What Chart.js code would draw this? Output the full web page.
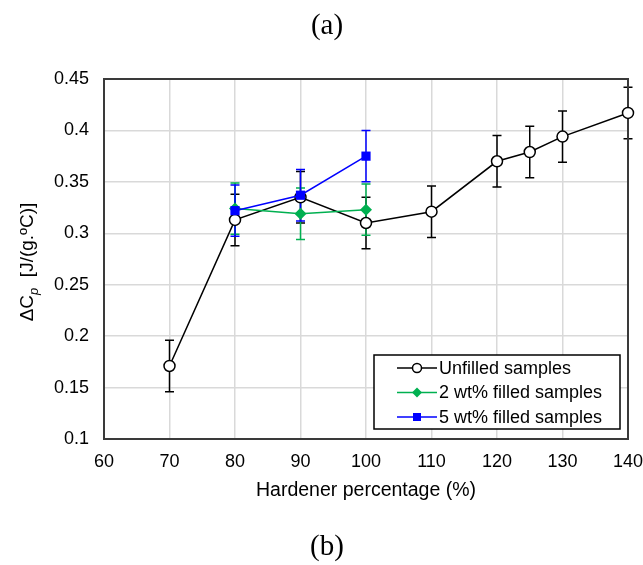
<!DOCTYPE html>
<html>
<head>
<meta charset="utf-8">
<script src="https://cdn.jsdelivr.net/npm/chart.js@4"></script>
<style>
    body { margin: 0; background: #fff; }
    #wrap { width: 643px; height: 565px; }
</style>
</head>
<body>
<div id="wrap"><canvas id="cpChart" width="643" height="565"></canvas></div>
<script>
// hardener percentage on the x axis
var xTicks = [60, 70, 80, 90, 100, 110, 120, 130, 140];
var yTicks = [0.1, 0.15, 0.2, 0.25, 0.3, 0.35, 0.4, 0.45];

var unfilledX = [70, 80, 90, 100, 110, 120, 125, 130, 140];
var unfilledY = [0.171, 0.313, 0.335, 0.310, 0.321, 0.370, 0.379, 0.394, 0.417];
var unfilledErr = [0.025, 0.025, 0.025, 0.025, 0.025, 0.025, 0.025, 0.025, 0.025];

var filled2X = [80, 90, 100];
var filled2Y = [0.324, 0.319, 0.323];
var filled2Err = [0.025, 0.025, 0.025];

var filled5X = [80, 90, 100];
var filled5Y = [0.322, 0.337, 0.375];
var filled5Err = [0.025, 0.025, 0.025];

var labels = ["Unfilled samples", "2 wt% filled samples", "5 wt% filled samples"];

var GREEN = '#00b050';
var BLUE = '#0000ff';

function toPoints(xs, ys) {
    return xs.map(function(x, i) { return { x: x, y: ys[i] }; });
}

// vertical error bars with caps, drawn under the markers
var errorBars = {
    id: 'errorBars',
    beforeDatasetsDraw: function(chart) {
        var ctx = chart.ctx;
        var xs = chart.scales.x, ys = chart.scales.y;
        chart.data.datasets.forEach(function(ds) {
            ctx.save();
            ctx.strokeStyle = ds.borderColor;
            ctx.lineWidth = 1.5;
            ds.data.forEach(function(p, i) {
                var e = ds.errors[i];
                var px = xs.getPixelForValue(p.x);
                var top = ys.getPixelForValue(p.y + e);
                var bot = ys.getPixelForValue(p.y - e);
                ctx.beginPath();
                ctx.moveTo(px, top); ctx.lineTo(px, bot);
                ctx.moveTo(px - 4.5, top); ctx.lineTo(px + 4.5, top);
                ctx.moveTo(px - 4.5, bot); ctx.lineTo(px + 4.5, bot);
                ctx.stroke();
            });
            ctx.restore();
        });
        // plot frame
        var a = chart.chartArea;
        ctx.save();
        ctx.strokeStyle = '#3a3a3a';
        ctx.lineWidth = 2;
        ctx.strokeRect(a.left, a.top, a.right - a.left, a.bottom - a.top);
        ctx.restore();
    }
};

function drawMarker(ctx, style, x, y, color) {
    ctx.save();
    ctx.lineWidth = 1.5;
    if (style === 'circle') {
        ctx.fillStyle = '#fff';
        ctx.strokeStyle = color;
        ctx.beginPath();
        ctx.arc(x, y, 4.5, 0, Math.PI * 2);
        ctx.fill(); ctx.stroke();
    } else if (style === 'rectRot') {
        ctx.fillStyle = color;
        ctx.beginPath();
        ctx.moveTo(x, y - 5); ctx.lineTo(x + 5, y); ctx.lineTo(x, y + 5); ctx.lineTo(x - 5, y);
        ctx.closePath(); ctx.fill();
    } else {
        ctx.fillStyle = color;
        ctx.fillRect(x - 4, y - 4, 8, 8);
    }
    ctx.restore();
}

// texts, y title with subscript, and the boxed legend
var extras = {
    id: 'extras',
    afterDraw: function(chart) {
        var ctx = chart.ctx;
        var a = chart.chartArea;
        ctx.save();
        ctx.fillStyle = '#000';
        ctx.textAlign = 'center';
        ctx.textBaseline = 'middle';
        ctx.font = '29px "Liberation Serif"';
        ctx.fillText('(a)', 327, 26);
        ctx.fillText('(b)', 327, 547);

        ctx.font = '19.5px "Liberation Sans"';
        ctx.fillText('Hardener percentage (%)', (a.left + a.right) / 2, 491);

        // y axis title
        ctx.translate(28, (a.top + a.bottom) / 2 + 3);
        ctx.rotate(-Math.PI / 2);
        var f1 = '19px "Liberation Sans"';
        var f2 = 'italic 13px "Liberation Sans"';
        var t1 = '\u0394C', t2 = 'p', t3 = '  [J/(g.\u00baC)]';
        ctx.font = f1; var w1 = ctx.measureText(t1).width; var w3 = ctx.measureText(t3).width;
        ctx.font = f2; var w2 = ctx.measureText(t2).width;
        var sx = -(w1 + w2 + w3) / 2;
        ctx.textAlign = 'left';
        ctx.font = f1; ctx.fillText(t1, sx, 0);
        ctx.font = f2; ctx.fillText(t2, sx + w1, 6);
        ctx.font = f1; ctx.fillText(t3, sx + w1 + w2, 0);
        ctx.restore();

        // legend
        ctx.save();
        var lx = 374, ly = 355, lw = 246, lh = 74;
        ctx.fillStyle = '#fff';
        ctx.fillRect(lx, ly, lw, lh);
        ctx.strokeStyle = '#000';
        ctx.lineWidth = 1.5;
        ctx.strokeRect(lx, ly, lw, lh);
        ctx.font = '18px "Liberation Sans"';
        ctx.textBaseline = 'middle';
        chart.data.datasets.forEach(function(ds, i) {
            var ry = 368 + i * 24.5;
            ctx.strokeStyle = ds.borderColor;
            ctx.lineWidth = 1.5;
            ctx.beginPath(); ctx.moveTo(397, ry); ctx.lineTo(437, ry); ctx.stroke();
            drawMarker(ctx, ds.pointStyle, 417, ry, ds.borderColor);
            ctx.fillStyle = '#000';
            ctx.fillText(ds.label, 439, ry + 1);
        });
        ctx.restore();
    }
};

var datasets = [
    { label: labels[0], data: toPoints(unfilledX, unfilledY), errors: unfilledErr,
      borderColor: '#000', pointStyle: 'circle', pointBackgroundColor: '#fff',
      pointBorderColor: '#000', pointRadius: 5.5, pointBorderWidth: 1.5, order: 3 },
    { label: labels[1], data: toPoints(filled2X, filled2Y), errors: filled2Err,
      borderColor: GREEN, pointStyle: 'rectRot', pointBackgroundColor: GREEN,
      pointBorderColor: GREEN, pointRadius: 6, pointBorderWidth: 0, order: 2 },
    { label: labels[2], data: toPoints(filled5X, filled5Y), errors: filled5Err,
      borderColor: BLUE, pointStyle: 'rect', pointBackgroundColor: BLUE,
      pointBorderColor: BLUE, pointRadius: 6.5, pointBorderWidth: 0, order: 1 }
];
datasets.forEach(function(ds) {
    ds.showLine = true;
    ds.borderWidth = 1.5;
    ds.tension = 0;
    ds.clip = false;
});

new Chart(document.getElementById('cpChart'), {
    type: 'scatter',
    data: { datasets: datasets },
    plugins: [errorBars, extras],
    options: {
        responsive: false,
        animation: false,
        events: [],
        layout: { padding: { top: 79, right: 15, left: 0, bottom: 0 } },
        plugins: { legend: { display: false }, tooltip: { enabled: false } },
        scales: {
            x: {
                type: 'linear', min: 60, max: 140,
                afterBuildTicks: function(s) { s.ticks = xTicks.map(function(v) { return { value: v }; }); },
                afterFit: function(s) { s.height = 126; s.paddingLeft = 0; s.paddingRight = 0; },
                grid: { color: '#d9d9d9', lineWidth: 1.5, drawTicks: false },
                border: { display: false },
                ticks: { color: '#000', padding: 12, font: { family: 'Liberation Sans', size: 18 } }
            },
            y: {
                type: 'linear', min: 0.1, max: 0.45,
                afterBuildTicks: function(s) { s.ticks = yTicks.map(function(v) { return { value: v }; }); },
                afterFit: function(s) { s.width = 104; s.paddingTop = 0; s.paddingBottom = 0; },
                grid: { color: '#d9d9d9', lineWidth: 1.5, drawTicks: false },
                border: { display: false },
                ticks: {
                    color: '#000', padding: 15, font: { family: 'Liberation Sans', size: 18 },
                    callback: function(v) { return String(+v.toFixed(2)); }
                }
            }
        }
    }
});
</script>
</body>
</html>
